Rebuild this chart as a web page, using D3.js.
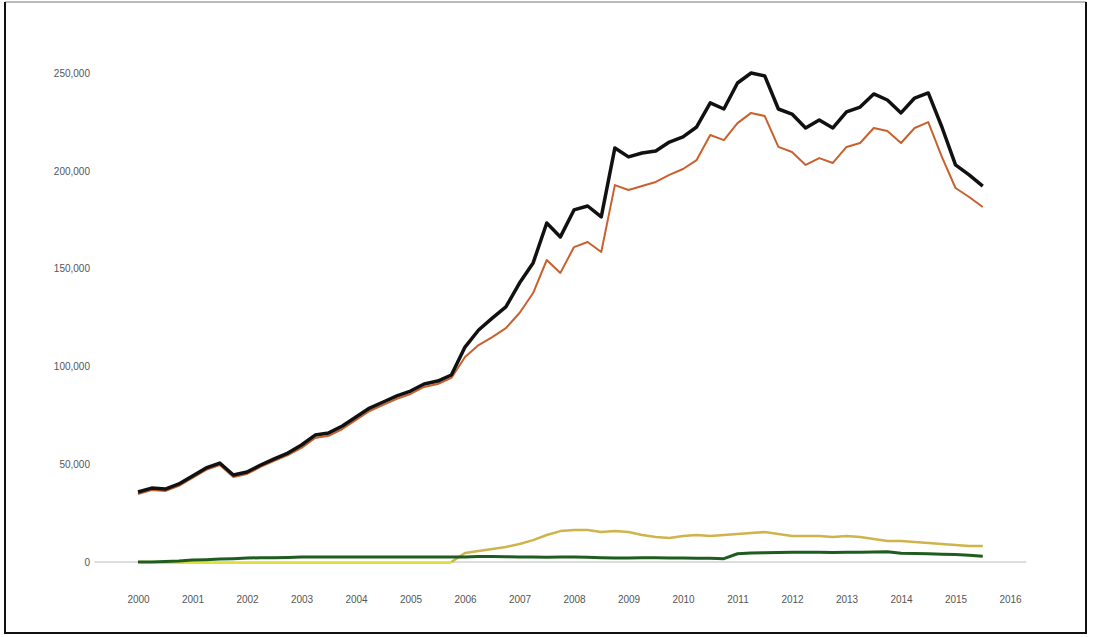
<!DOCTYPE html>
<html>
<head>
<meta charset="utf-8">
<script src="https://d3js.org/d3.v7.min.js"></script>
<style>
  body { margin: 0; background: #fff; }
  text { font-family: "Liberation Sans", Arial, sans-serif; }
</style>
</head>
<body>
<div id="chart-area"></div>
<script>
  // Quarterly data, 2000 Q1 .. 2015 Q3
  var startYear = 2000;
  var yearTicks = [2000, 2001, 2002, 2003, 2004, 2005, 2006, 2007, 2008,
                   2009, 2010, 2011, 2012, 2013, 2014, 2015, 2016];
  var valueTicks = [0, 50000, 100000, 150000, 200000, 250000];

  var totalSeries = [35800, 37800, 37300, 39900, 44000, 48100, 50600, 44500,
                     46000, 49600, 52700, 55700, 59800, 64900, 66000, 69500,
                     74100, 78700, 81800, 84900, 87400, 91000, 92500, 95600,
                     109900, 118600, 124700, 130400, 142600, 152900, 173300, 166200,
                     180000, 182000, 176400, 211700, 207100, 209100, 210100, 214700,
                     217300, 222400, 234700, 231600, 244900, 250000, 248500, 231600,
                     229000, 221900, 226000, 221900, 230100, 232600, 239300, 236200,
                     229600, 237200, 239800, 222400, 203000, 197900, 192200];
  var orangeSeries = [34800, 36800, 36300, 38900, 43000, 47100, 49600, 43500,
                      45000, 48600, 51700, 54700, 58300, 63400, 64500, 68000,
                      72600, 77200, 80300, 83400, 85900, 89500, 91000, 94100,
                      104800, 110900, 115000, 119600, 127300, 137500, 154400, 147800,
                      161000, 163600, 158500, 192700, 190200, 192200, 194300, 197900,
                      200900, 205500, 218300, 215700, 224400, 229600, 228000, 212200,
                      209600, 203000, 206500, 204000, 212200, 214200, 221900, 220400,
                      214200, 221900, 224900, 207100, 191200, 186600, 181500];
  var goldSeries = [0, 0, 0, 0, 0, 0, 0, 0,
                    0, 0, 0, 0, 0, 0, 0, 0,
                    0, 0, 0, 0, 0, 0, 0, 0,
                    4600, 5600, 6600, 7700, 9200, 11200, 13800, 15800,
                    16400, 16400, 15300, 15800, 15300, 13800, 12800, 12300,
                    13300, 13800, 13300, 13800, 14300, 14800, 15300, 14300,
                    13300, 13300, 13300, 12800, 13300, 12800, 11800, 10700,
                    10700, 10200, 9700, 9200, 8700, 8200, 8200];
  var greenSeries = [0, 0, 200, 500, 1000, 1200, 1500, 1700,
                     2000, 2200, 2200, 2300, 2500, 2600, 2600, 2600,
                     2600, 2600, 2600, 2600, 2600, 2600, 2500, 2500,
                     2600, 2800, 2800, 2700, 2600, 2500, 2400, 2500,
                     2600, 2400, 2200, 2100, 2100, 2200, 2200, 2100,
                     2000, 1900, 1900, 1700, 4200, 4600, 4700, 4800,
                     5000, 5000, 5000, 4900, 5000, 5000, 5100, 5200,
                     4500, 4300, 4200, 4000, 3800, 3400, 3000];

  var W = 1097, H = 637;
  var svg = d3.select('#chart-area')
              .append('svg')
              .attr('width', W)
              .attr('height', H);

  // Frame
  svg.append('line').attr('x1', 5).attr('x2', 1086).attr('y1', 2).attr('y2', 2)
     .attr('stroke', '#777').attr('stroke-width', 1);
  svg.append('line').attr('x1', 5).attr('x2', 5).attr('y1', 2).attr('y2', 634)
     .attr('stroke', '#111').attr('stroke-width', 2);
  svg.append('line').attr('x1', 1086).attr('x2', 1086).attr('y1', 2).attr('y2', 634)
     .attr('stroke', '#111').attr('stroke-width', 2);
  svg.append('line').attr('x1', 5).attr('x2', 1086).attr('y1', 633).attr('y2', 633)
     .attr('stroke', '#111').attr('stroke-width', 2);

  // Scales
  var x = d3.scaleLinear().domain([2000, 2016]).range([138, 1010]);
  var y = d3.scaleLinear().domain([0, 250000]).range([562, 73]);

  // Y labels
  var yAxisCall = d3.axisLeft(y)
                    .tickValues(valueTicks)
                    .tickSize(0)
                    .tickPadding(0)
                    .tickFormat(d3.format(','));
  var yAxis = svg.append('g')
                 .attr('transform', 'translate(90,0)')
                 .call(yAxisCall);
  yAxis.select('.domain').remove();
  yAxis.selectAll('text')
       .attr('font-size', '10px')
       .attr('fill', '#555')
       .attr('font-family', '"Liberation Sans", Arial, sans-serif');

  // X labels
  var xAxisCall = d3.axisBottom(x)
                    .tickValues(yearTicks)
                    .tickSize(0)
                    .tickPadding(0)
                    .tickFormat(d3.format('d'));
  var xAxis = svg.append('g')
                 .attr('transform', 'translate(0,596)')
                 .call(xAxisCall);
  xAxis.select('.domain').remove();
  xAxis.selectAll('text')
       .attr('font-size', '10px')
       .attr('fill', '#555')
       .attr('font-family', '"Liberation Sans", Arial, sans-serif');

  // Zero baseline
  svg.append('line')
     .attr('x1', x(1999.2)).attr('x2', x(2016.3))
     .attr('y1', y(0)).attr('y2', y(0))
     .attr('stroke', '#bbb')
     .attr('stroke-width', 1);

  function quarter(i) { return startYear + i * 0.25; }

  var line = d3.line()
      .x(function(d, i) { return x(quarter(i)); })
      .y(function(d) { return y(d); });

  // Gold series: lime before 2006, gold afterwards
  var limeLine = d3.line()
      .defined(function(d, i) { return i <= 23; })
      .x(function(d, i) { return x(quarter(i)); })
      .y(function(d) { return y(d); });
  var goldLine = d3.line()
      .defined(function(d, i) { return i >= 23; })
      .x(function(d, i) { return x(quarter(i)); })
      .y(function(d) { return y(d); });

  svg.append('path')
     .attr('fill', 'none')
     .attr('stroke', '#dfe03e')
     .attr('stroke-width', 2.5)
     .attr('d', limeLine(goldSeries.map(function(d, i) { return i < 2 ? d : d - 400; })));
  svg.append('path')
     .attr('fill', 'none')
     .attr('stroke', '#cfb44c')
     .attr('stroke-width', 2.5)
     .attr('stroke-linejoin', 'round')
     .attr('d', goldLine(goldSeries));

  svg.append('path')
     .attr('fill', 'none')
     .attr('stroke', '#1f5c1f')
     .attr('stroke-width', 3)
     .attr('stroke-linejoin', 'round')
     .attr('d', line(greenSeries));

  svg.append('path')
     .attr('fill', 'none')
     .attr('stroke', '#c8612e')
     .attr('stroke-width', 2)
     .attr('stroke-linejoin', 'round')
     .attr('d', line(orangeSeries));

  svg.append('path')
     .attr('fill', 'none')
     .attr('stroke', '#111')
     .attr('stroke-width', 3.5)
     .attr('stroke-linejoin', 'round')
     .attr('d', line(totalSeries));
</script>
</body>
</html>
